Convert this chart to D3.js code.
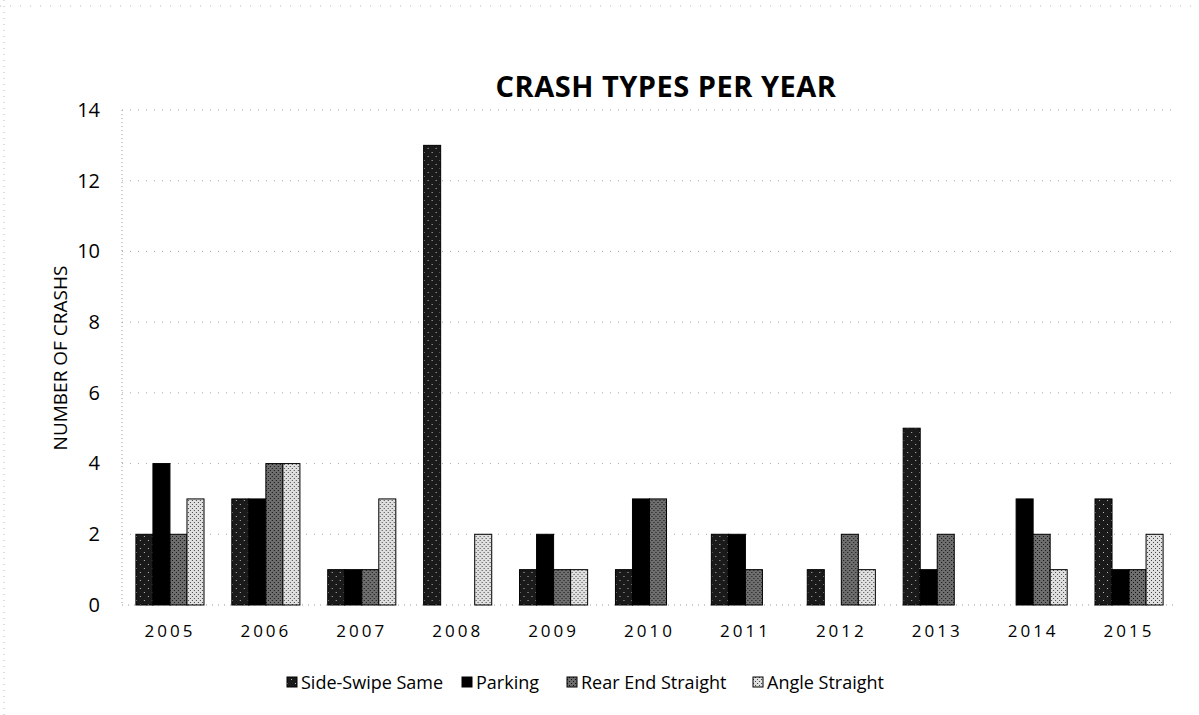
<!DOCTYPE html>
<html>
<head>
<meta charset="utf-8">
<script src="https://cdn.jsdelivr.net/npm/d3@7"></script>
<style>
	body { margin: 0; background: #fff; }
	text { font-family: "Open Sans", "Noto Sans", sans-serif; fill: #000; }
</style>
</head>
<body>
<div id="chart"></div>
<script>

// data
var years = ["2005","2006","2007","2008","2009","2010","2011","2012","2013","2014","2015"];
var seriesNames = ["Side-Swipe Same","Parking","Rear End Straight","Angle Straight"];
var sideSwipe = [2,3,1,13,1,1,2,1,5,0,3];
var parking   = [4,3,1,0,2,3,2,0,1,3,1];
var rearEnd   = [2,4,1,0,1,3,1,2,2,2,1];
var angle     = [3,4,3,2,1,0,0,1,0,1,2];
var yTicks = [0,2,4,6,8,10,12,14];

var values = [sideSwipe, parking, rearEnd, angle];

var width = 1199, height = 715;
var margin = { top: 110, right: 22, bottom: 110, left: 122 };

var svg = d3.select("#chart").append("svg")
	.attr("width", width)
	.attr("height", height);

// grayscale textures, like the printed chart
var defs = svg.append("defs");
var pats = [
	{id: "p0", bg: "#1a1a1a", dot: "#bbb", step: 4},
	{id: "p1", bg: "#000", dot: null, step: 4},
	{id: "p2", bg: "#6e6e6e", dot: "#111", step: 2},
	{id: "p3", bg: "#e0e0e0", dot: "#444", step: 2}
];
pats.forEach(function(p){
	var pat = defs.append("pattern")
		.attr("id", p.id)
		.attr("patternUnits", "userSpaceOnUse")
		.attr("width", p.step*2).attr("height", p.step*2);
	pat.append("rect").attr("width", p.step*2).attr("height", p.step*2).attr("fill", p.bg);
	if (p.dot) {
		pat.append("rect").attr("x", 0).attr("y", 0).attr("width", 1).attr("height", 1).attr("fill", p.dot);
		pat.append("rect").attr("x", p.step).attr("y", p.step).attr("width", 1).attr("height", 1).attr("fill", p.dot);
	}
});

// faint scan borders
svg.append("line").attr("x1", 0).attr("x2", width).attr("y1", 6).attr("y2", 6)
	.attr("stroke", "#bbb").attr("stroke-dasharray", "1,9");
svg.append("line").attr("x1", 4).attr("x2", 4).attr("y1", 0).attr("y2", height)
	.attr("stroke", "#bbb").attr("stroke-dasharray", "1,5");

var x0 = d3.scaleBand()
	.domain(years)
	.range([margin.left, width - margin.right])
	.paddingInner(0.29)
	.paddingOuter(0.145);

var x1 = d3.scaleBand()
	.domain(d3.range(seriesNames.length))
	.range([0, x0.bandwidth()]);

var y = d3.scaleLinear()
	.domain([0, 14])
	.range([height - margin.bottom, margin.top]);

// gridlines
svg.append("g").selectAll("line")
	.data(yTicks.slice(1)).enter()
	.append("line")
		.attr("x1", margin.left)
		.attr("x2", width - margin.right)
		.attr("y1", function(d){ return y(d); })
		.attr("y2", function(d){ return y(d); })
		.attr("stroke", "#aaa")
		.attr("stroke-dasharray", "1,7");

// dotted axis lines
svg.append("line")
	.attr("x1", margin.left).attr("x2", margin.left)
	.attr("y1", y(14)).attr("y2", y(0))
	.attr("stroke", "#999").attr("stroke-dasharray", "1,3");
svg.append("line")
	.attr("x1", margin.left).attr("x2", width - margin.right)
	.attr("y1", y(0)).attr("y2", y(0))
	.attr("stroke", "#999").attr("stroke-dasharray", "1,5");

// bars
var groups = svg.append("g").selectAll("g")
	.data(years).enter()
	.append("g")
		.attr("transform", function(d){ return "translate(" + x0(d) + ",0)"; });

groups.selectAll("rect")
	.data(function(d, i){ return values.map(function(s, k){ return {k: k, v: s[i]}; }); })
	.enter()
	.filter(function(d){ return d.v > 0; })
	.append("rect")
		.attr("x", function(d){ return x1(d.k); })
		.attr("y", function(d){ return y(d.v); })
		.attr("width", x1.bandwidth())
		.attr("height", function(d){ return y(0) - y(d.v); })
		.attr("fill", function(d){ return "url(#p" + d.k + ")"; })
		.attr("stroke", "#000")
		.attr("stroke-width", 1);

// axes
var yAxis = d3.axisLeft(y).tickValues(yTicks).tickSize(0).tickPadding(22);
svg.append("g")
	.attr("class", "y axis")
	.attr("transform", "translate(" + margin.left + ",0)")
	.call(yAxis)
	.call(function(g){ g.select(".domain").remove(); })
	.selectAll("text")
		.style("font-size", "20px")
		.style("font-family", "'Open Sans', sans-serif");

var xAxis = d3.axisBottom(x0).tickSize(0).tickPadding(20);
svg.append("g")
	.attr("class", "x axis")
	.attr("transform", "translate(0," + y(0) + ")")
	.call(xAxis)
	.call(function(g){ g.select(".domain").remove(); })
	.selectAll("text")
		.style("font-size", "17px")
		.style("letter-spacing", "3px")
		.style("font-family", "'Open Sans', sans-serif");

// title
svg.append("text")
	.text("CRASH TYPES PER YEAR")
	.attr("x", 666).attr("y", 97)
	.attr("text-anchor", "middle")
	.style("font-size", "29px")
	.style("font-weight", "bold")
	.style("letter-spacing", "0.5px");

// y axis label
svg.append("text")
	.text("NUMBER OF CRASHS")
	.attr("text-anchor", "middle")
	.attr("transform", "translate(67,358) rotate(-90)")
	.style("font-size", "19px");

// legend
var legendX = [287, 462, 567, 753];
var legend = svg.append("g").selectAll("g")
	.data(seriesNames).enter()
	.append("g")
		.attr("transform", function(d, i){ return "translate(" + legendX[i] + ",683)"; });
legend.append("rect")
	.attr("x", 0).attr("y", -6)
	.attr("width", 10).attr("height", 10)
	.attr("fill", function(d, i){ return "url(#p" + i + ")"; })
	.attr("stroke", "#000");
legend.append("text")
	.text(function(d){ return d; })
	.attr("x", 14).attr("y", 6)
	.style("font-size", "18px");

</script>
</body>
</html>
